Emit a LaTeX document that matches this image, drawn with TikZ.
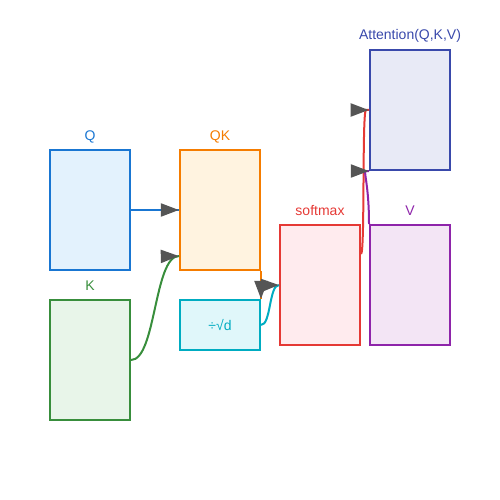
\documentclass[tikz,border=0pt]{standalone}
\usepackage{fontspec}
\setmainfont{Liberation Sans}
\usepackage{xcolor}
\usetikzlibrary{arrows.meta, calc, decorations.markings}
\definecolor{qline}{HTML}{1976D2}
\definecolor{qfill}{HTML}{E3F2FD}
\definecolor{kline}{HTML}{388E3C}
\definecolor{kfill}{HTML}{E8F5E9}
\definecolor{qkline}{HTML}{F57C00}
\definecolor{qkfill}{HTML}{FFF3E0}
\definecolor{sline}{HTML}{00ACC1}
\definecolor{sfill}{HTML}{E0F7FA}
\definecolor{smline}{HTML}{E53935}
\definecolor{smfill}{HTML}{FFEBEE}
\definecolor{vline}{HTML}{8E24AA}
\definecolor{vfill}{HTML}{F3E5F5}
\definecolor{aline}{HTML}{3949AB}
\definecolor{afill}{HTML}{E8EAF6}
\definecolor{tipgray}{HTML}{555555}
\tikzstyle{box} = [rectangle, minimum width=80pt, minimum height=120pt, inner sep=0pt, line width=2pt, font=\fontsize{14pt}{16pt}\selectfont]
\tikzstyle{qbox} = [box, draw=qline, fill=qfill]
\tikzstyle{kbox} = [box, draw=kline, fill=kfill]
\tikzstyle{qkbox} = [box, draw=qkline, fill=qkfill]
\tikzstyle{sbox} = [box, minimum height=50pt, draw=sline, fill=sfill, text=sline]
\tikzstyle{smbox} = [box, draw=smline, fill=smfill]
\tikzstyle{vbox} = [box, draw=vline, fill=vfill]
\tikzstyle{abox} = [box, draw=aline, fill=afill]
\tikzstyle{lbl} = [anchor=base, inner sep=0pt, font=\fontsize{14pt}{16pt}\selectfont]
\tikzstyle{arrow} = [line width=2pt, postaction={decorate}, decoration={markings, mark=at position 0.998 with {\arrow[tipgray]{Triangle[length=18pt,width=13pt]}}}]
\begin{document}
\begin{tikzpicture}[x=1pt, y=-1pt, node distance=130pt]
\useasboundingbox (0,0) rectangle (500,500);

\node (Q) [qbox] at (90,210) {};
\node (QK) [qkbox, right of=Q] {};
\node (K) [kbox, below of=Q, node distance=150pt] {};
\node (scale) [sbox, below of=QK, node distance=115pt] {÷√d};

\node (softmax) [smbox] at (320,285) {};
\node (V) [vbox, right of=softmax, node distance=90pt] {};
\node (att) [abox, above of=V, node distance=175pt] {};

\node (Qlbl) [lbl, text=qline] at (90,140) {Q};
\node (Klbl) [lbl, text=kline] at (90,290) {K};
\node (QKlbl) [lbl, text=qkline] at (220,140) {QK};
\node (smlbl) [lbl, text=smline] at (320,215) {softmax};
\node (Vlbl) [lbl, text=vline] at (410,215) {V};
\node (attlbl) [lbl, text=aline] at (410,40) {Attention(Q,K,V)};

\coordinate (QKin) at ($(QK.south west)+(0,-15)$);
\coordinate (smout) at ($(softmax.north east)+(0,30)$);
\coordinate (smend) at ($(att.west)+(-3,0)$);
\coordinate (vend) at ($(att.south west)+(-3,0)$);

\draw [arrow, qline] (Q) -- (QK);
\draw [arrow, kline] (K.east) .. controls +(25,0) and +(-25,0) .. (QKin);
\draw [arrow, qkline] (QK.south east) -- (scale.north east);
\draw [arrow, sline] (scale.east) .. controls +(10,0) and +(-10,0) .. (softmax.west);
\draw [arrow, smline] (smout) .. controls +(4,0) and +(-4,0) .. (smend) -- (att.west);
\draw [arrow, vline] (V.north west) .. controls +(0,-40) and +(-3,0) .. (vend) -- (att.south west);

\end{tikzpicture}
\end{document}
